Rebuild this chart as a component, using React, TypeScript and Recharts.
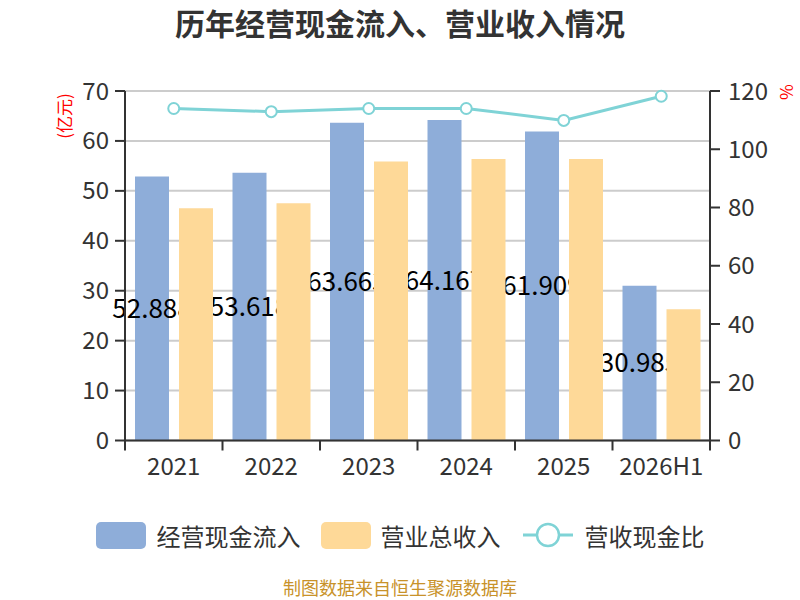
import React from 'react';
import {
  ComposedChart,
  Bar,
  Line,
  XAxis,
  YAxis,
  CartesianGrid,
  Legend,
  LabelList,
} from 'recharts';

const categories = ['2021', '2022', '2023', '2024', '2025', '2026H1'];
const cashInflow = [52.888, 53.618, 63.663, 64.167, 61.909, 30.985];
const revenue = [46.5, 47.5, 55.9, 56.4, 56.4, 26.3];
const ratio = [114.0, 112.9, 114.0, 114.0, 109.9, 118.2];
const leftTicks = [0, 10, 20, 30, 40, 50, 60, 70];
const rightTicks = [0, 20, 40, 60, 80, 100, 120];

const seriesNames = ['经营现金流入', '营业总收入', '营收现金比'];
const COLORS = { cash: '#8eadd9', revenue: '#fed998', ratio: '#7fd3d6' };

const data = categories.map((c, i) => ({
  name: c,
  cash: cashInflow[i],
  revenue: revenue[i],
  ratio: ratio[i],
}));

const W = 800;
const H = 600;
const PLOT_LEFT = 125;
const PLOT_RIGHT = 710;
const BAND = (PLOT_RIGHT - PLOT_LEFT) / categories.length;
const FONT = "'Noto Sans CJK SC', 'Noto Sans', sans-serif";

const XTick = (props: any) => {
  const { x, y, payload, index } = props;
  const half = BAND / 2;
  return (
    <g>
      <line x1={x - half} x2={x - half} y1={y} y2={y + 10} stroke="#333" strokeWidth={2} />
      {index === categories.length - 1 && (
        <line x1={x + half} x2={x + half} y1={y} y2={y + 10} stroke="#333" strokeWidth={2} />
      )}
      <text x={x} y={y + 34} textAnchor="middle" fill="#333" fontSize={24} fontFamily={FONT}>
        {payload.value}
      </text>
    </g>
  );
};

const LegendContent = () => (
  <div
    style={{
      width: W,
      fontFamily: FONT,
      display: 'flex',
      justifyContent: 'center',
      alignItems: 'center',
      height: 30,
    }}
  >
    <div style={{ display: 'flex', alignItems: 'center', marginRight: 20 }}>
      <div style={{ width: 50, height: 27, borderRadius: 5, background: COLORS.cash }} />
      <span style={{ marginLeft: 11, fontSize: 24, color: '#333' }}>{seriesNames[0]}</span>
    </div>
    <div style={{ display: 'flex', alignItems: 'center', marginRight: 22 }}>
      <div style={{ width: 50, height: 27, borderRadius: 5, background: COLORS.revenue }} />
      <span style={{ marginLeft: 10, fontSize: 24, color: '#333' }}>{seriesNames[1]}</span>
    </div>
    <div style={{ display: 'flex', alignItems: 'center' }}>
      <svg width={50} height={26}>
        <line x1={0} x2={50} y1={13} y2={13} stroke={COLORS.ratio} strokeWidth={3} />
        <circle cx={25} cy={13} r={11} fill="#fff" stroke={COLORS.ratio} strokeWidth={2.5} />
      </svg>
      <span style={{ marginLeft: 12, fontSize: 24, color: '#333' }}>{seriesNames[2]}</span>
    </div>
  </div>
);

export default function App() {
  return (
    <div
      style={{
        position: 'absolute',
        left: 0,
        top: 0,
        width: W,
        height: H,
        background: '#fff',
        fontFamily: FONT,
      }}
    >
      <div
        style={{
          position: 'absolute',
          left: 0,
          top: 2,
          width: W,
          textAlign: 'center',
          fontSize: 30,
          fontWeight: 'bold',
          color: '#333',
          lineHeight: '40px',
          zIndex: 2,
        }}
      >
        历年经营现金流入、营业收入情况
      </div>
      <div
        style={{
          position: 'absolute',
          left: 63,
          top: 115.5,
          transform: 'translate(-50%, -50%) rotate(-90deg)',
          color: '#ff0000',
          fontSize: 17,
          whiteSpace: 'nowrap',
          zIndex: 2,
        }}
      >
        (亿元)
      </div>
      <div
        style={{
          position: 'absolute',
          left: 787,
          top: 92,
          transform: 'translate(-50%, -50%) rotate(90deg)',
          color: '#ff0000',
          fontSize: 17,
          whiteSpace: 'nowrap',
          zIndex: 2,
        }}
      >
        %
      </div>
      <ComposedChart
        width={W}
        height={H}
        data={data}
        margin={{ top: 91, right: 30, left: 65, bottom: 119.5 }}
        barGap={10}
      >
        <CartesianGrid yAxisId="left" vertical={false} stroke="#cccccc" strokeWidth={2} />
        <XAxis
          dataKey="name"
          height={40}
          tickLine={false}
          tickSize={0}
          tickMargin={0}
          axisLine={{ stroke: '#333', strokeWidth: 2 }}
          tick={<XTick />}
          interval={0}
        />
        <YAxis
          yAxisId="left"
          width={60}
          domain={[0, 70]}
          ticks={leftTicks}
          tickSize={10}
          tickMargin={6}
          axisLine={{ stroke: '#333', strokeWidth: 2 }}
          tickLine={{ stroke: '#333', strokeWidth: 2 }}
          tick={{ fill: '#333', fontSize: 24 }}
        />
        <YAxis
          yAxisId="right"
          orientation="right"
          width={60}
          domain={[0, 120]}
          ticks={rightTicks}
          tickSize={10}
          tickMargin={8}
          axisLine={{ stroke: '#333', strokeWidth: 2 }}
          tickLine={{ stroke: '#333', strokeWidth: 2 }}
          tick={{ fill: '#333', fontSize: 24 }}
        />
        <Legend
          verticalAlign="middle"
          align="center"
          layout="horizontal"
          wrapperStyle={{ top: 520, left: 0, width: W }}
          content={<LegendContent />}
        />
        <Bar
          yAxisId="left"
          dataKey="cash"
          name={seriesNames[0]}
          fill={COLORS.cash}
          barSize={34}
          isAnimationActive={false}
          {...({ zIndex: 300 } as any)}
        >
          <LabelList
            dataKey="cash"
            position="center"
            fill="#000"
            fontSize={26}
            {...({ zIndex: 350 } as any)}
          />
        </Bar>
        <Bar
          yAxisId="left"
          dataKey="revenue"
          name={seriesNames[1]}
          fill={COLORS.revenue}
          barSize={34}
          isAnimationActive={false}
          {...({ zIndex: 400 } as any)}
        />
        <Line
          yAxisId="right"
          dataKey="ratio"
          name={seriesNames[2]}
          stroke={COLORS.ratio}
          strokeWidth={3}
          dot={{ r: 5.5, fill: '#fff', stroke: COLORS.ratio, strokeWidth: 2 }}
          isAnimationActive={false}
          {...({ zIndex: 500 } as any)}
        />
      </ComposedChart>
      <div
        style={{
          position: 'absolute',
          left: 0,
          top: 576,
          width: W,
          textAlign: 'center',
          fontSize: 18,
          color: '#c8922a',
          lineHeight: '22px',
          zIndex: 2,
        }}
      >
        制图数据来自恒生聚源数据库
      </div>
    </div>
  );
}
